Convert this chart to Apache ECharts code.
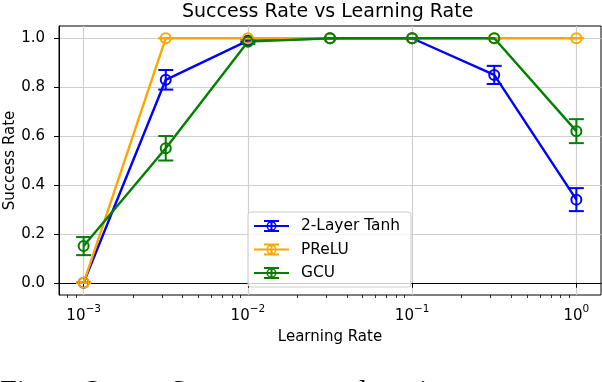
<!DOCTYPE html>
<html>
<head>
<meta charset="utf-8">
<script src="https://cdn.jsdelivr.net/npm/echarts@6/dist/echarts.min.js"></script>
<style>
  html, body { margin: 0; padding: 0; background: #fff; }
  #chart { width: 602px; height: 382px; }
</style>
</head>
<body>
<div id="chart"></div>
<script>
// learning rates on the x axis
const learningRates = [0.001, 0.003162, 0.01, 0.03162, 0.1, 0.3162, 1];

// mean success rate and error bar half-widths
const tanhMean  = [0.0, 0.83, 0.99, 1.0, 1.0, 0.85, 0.34];
const tanhErr   = [0.0, 0.04, 0.005, 0.0, 0.0, 0.037, 0.047];
const preluMean = [0.0, 1.0, 1.0, 1.0, 1.0, 1.0, 1.0];
const preluErr  = [0.0, 0.0, 0.0, 0.0, 0.0, 0.0, 0.0];
const gcuMean   = [0.15, 0.55, 0.986, 1.0, 1.0, 1.0, 0.62];
const gcuErr    = [0.037, 0.05, 0.01, 0.0, 0.0, 0.0, 0.049];

const seriesNames = ["2-Layer Tanh", "PReLU", "GCU"];
const seriesColors = ["#0000ff", "#ffa500", "#008000"];

const xMajorTicks = [0.001, 0.01, 0.1, 1];
const xMinorMult = [2, 3, 4, 5, 6, 7, 8, 9];
const yTicks = [0, 0.2, 0.4, 0.6, 0.8, 1.0];

const xMinorTicks = [];
[0.0001, 0.001, 0.01, 0.1, 1].forEach(d => {
    xMinorMult.forEach(m => xMinorTicks.push(+(d * m).toPrecision(3)));
});

const xMin = Math.pow(10, -3.15);
const xMax = Math.pow(10, 0.15);

// legend icon: errorbar + hollow circle
const legendIcon = "path://M0 5 H35 V7 H0 Z M16.5 0 H18.5 V12 H16.5 Z M10 0 H25 V2 H10 Z M10 10 H25 V12 H10 Z " +
    "M22.5 6 A5 5 0 1 1 12.5 6 A5 5 0 1 1 22.5 6 Z M21 6 A3.5 3.5 0 1 0 14 6 A3.5 3.5 0 1 0 21 6 Z";

const means = [tanhMean, preluMean, gcuMean];
const errs = [tanhErr, preluErr, gcuErr];

function renderErr(params, api) {
    const x = api.value(0);
    const top = api.coord([x, api.value(2)]);
    const bot = api.coord([x, api.value(1)]);
    const w = 7.5;
    const style = { stroke: api.visual("color"), lineWidth: 2 };
    return {
        type: "group",
        children: [
            { type: "line", shape: { x1: top[0], y1: top[1], x2: bot[0], y2: bot[1] }, style: style },
            { type: "line", shape: { x1: top[0] - w, y1: top[1], x2: top[0] + w, y2: top[1] }, style: style },
            { type: "line", shape: { x1: bot[0] - w, y1: bot[1], x2: bot[0] + w, y2: bot[1] }, style: style }
        ]
    };
}

const series = [];
seriesNames.forEach((name, i) => {
    const c = seriesColors[i];
    series.push({
        name: name,
        type: "custom",
        xAxisIndex: 0,
        renderItem: renderErr,
        itemStyle: { color: c },
        silent: true,
        data: learningRates.map((lr, k) => [lr, means[i][k] - errs[i][k], means[i][k] + errs[i][k]])
    });
    series.push({
        name: name,
        type: "line",
        xAxisIndex: 0,
        symbol: "circle",
        symbolSize: 10,
        lineStyle: { color: c, width: 2.4 },
        itemStyle: { color: "transparent", borderColor: c, borderWidth: 2 },
        emphasis: { disabled: true },
        data: learningRates.map((lr, k) => [lr, means[i][k]])
    });
});

const chart = echarts.init(document.getElementById("chart"));

chart.setOption({
    animation: false,
    textStyle: { fontFamily: "DejaVu Sans" },
    title: {
        text: "Success Rate vs Learning Rate",
        left: 182,
        top: 3,
        padding: 0,
        textStyle: { fontSize: 19, fontWeight: "normal", color: "#000" }
    },
    grid: {
        left: 59, right: 1, top: 26, bottom: 87,
        show: true, borderColor: "#000", borderWidth: 1,
        outerBoundsMode: "none"
    },
    legend: {
        orient: "vertical",
        left: 248,
        top: 212,
        itemWidth: 35,
        itemHeight: 12,
        itemGap: 5.5,
        padding: [5, 11, 5, 6],
        backgroundColor: "rgba(255,255,255,0.8)",
        borderColor: "#cccccc",
        borderWidth: 1,
        borderRadius: 3,
        textStyle: { fontSize: 15.4, lineHeight: 18, color: "#000", padding: [0, 0, 0, 7] },
        data: seriesNames.map((n, i) => ({
            name: n,
            icon: legendIcon,
            itemStyle: { color: seriesColors[i], borderWidth: 0 }
        }))
    },
    xAxis: [{
        type: "log",
        min: xMin,
        max: xMax,
        name: "Learning Rate",
        nameLocation: "middle",
        nameGap: 35,
        nameMoveOverlap: false,
        nameTextStyle: { fontSize: 15, color: "#000" },
        axisLine: { show: true, lineStyle: { color: "#000", width: 1 } },
        axisTick: { show: true, customValues: xMajorTicks, length: 5, lineStyle: { color: "#000", width: 1 } },
        splitLine: { show: true, lineStyle: { color: "#cfcfcf", width: 1.2 } },
        axisLabel: {
            customValues: xMajorTicks,
            margin: 9,
            formatter: v => {
                const e = Math.round(Math.log10(v));
                return "{b|10}{s|" + (e < 0 ? "\u2212" + (-e) : e) + "}";
            },
            rich: {
                b: { fontSize: 15, color: "#000", verticalAlign: "bottom", padding: [5, 0, 0, 0] },
                s: { fontSize: 10.5, color: "#000", verticalAlign: "top" }
            }
        }
    }, {
        type: "log",
        min: xMin,
        max: xMax,
        position: "bottom",
        gridIndex: 0,
        axisLine: { show: false },
        axisLabel: { show: false },
        splitLine: { show: false },
        axisTick: { show: true, customValues: xMinorTicks, length: 3, lineStyle: { color: "#000", width: 0.8 } }
    }],
    yAxis: {
        type: "value",
        min: -0.05,
        max: 1.05,
        name: "Success Rate",
        nameLocation: "middle",
        nameGap: 41,
        nameMoveOverlap: false,
        nameTextStyle: { fontSize: 15, color: "#000" },
        axisLine: { show: true, lineStyle: { color: "#000", width: 1 } },
        axisTick: { show: true, customValues: yTicks, length: 5, lineStyle: { color: "#000", width: 1 } },
        splitLine: { show: true, lineStyle: { color: "#cfcfcf", width: 1.2 } },
        axisLabel: {
            customValues: yTicks,
            margin: 14,
            fontSize: 15,
            color: "#000",
            formatter: v => v.toFixed(1)
        }
    },
    graphic: [{
        type: "text",
        left: 0,
        top: 377,
        style: { text: "Figure 3:", font: "30px 'Liberation Serif'", fill: "#000" }
    }, {
        type: "text",
        left: 170,
        top: 377,
        style: { text: "Success rate vs learning rate", font: "30px 'Liberation Serif'", fill: "#000" }
    }],
    series: series
});
</script>
</body>
</html>
